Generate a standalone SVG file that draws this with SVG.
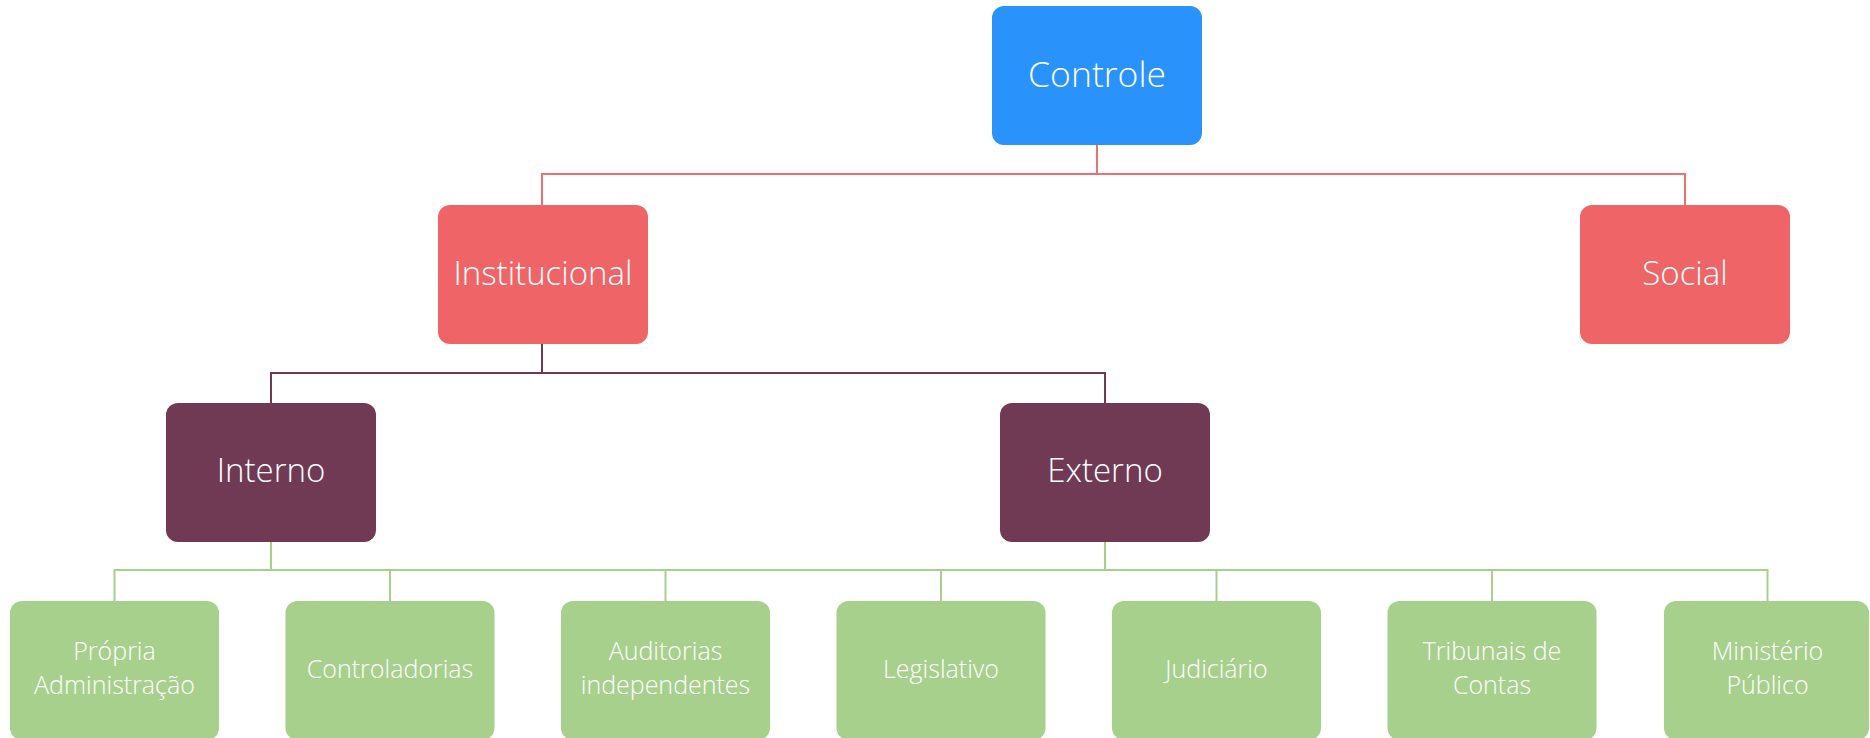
<svg xmlns="http://www.w3.org/2000/svg" width="1870" height="738" viewBox="0 0 1870 738">
<style>
text{font-family:"Open Sans","Noto Sans",sans-serif;font-weight:300;fill:#ffffff;text-anchor:middle}
.top{font-size:35.5px}
.big{font-size:33px}
.small{font-size:25px}
.blue{fill:#2A93FB}
.red{fill:#EF6567}
.purple{fill:#703A55}
.green{fill:#A8D08D}
.lr{stroke:#EF7072;stroke-width:2;fill:none}
.lp{stroke:#703A55;stroke-width:2;fill:none}
.lg{stroke:#A8D08D;stroke-width:2;fill:none}
</style>
<rect width="1870" height="738" fill="#ffffff"/>
<g id="connectors">
<path class="lr" d="M1097 145V174M542 205V174H1685V205"/>
<path class="lp" d="M542 344V373M271 403V373H1105V403"/>
<path class="lg" d="M271 542V570M1105 542V570M114.5 601V570H1767.5V601M390 570V601M665.5 570V601M941 570V601M1216.5 570V601M1492 570V601"/>
</g>
<g id="controle"><rect class="blue" x="992" y="6" width="210" height="139" rx="12"/><text class="top" x="1097" y="87">Controle</text></g>
<g id="institucional"><rect class="red" x="438" y="205" width="210" height="139" rx="12"/><text class="big" x="543" y="285">Institucional</text></g>
<g id="social"><rect class="red" x="1580" y="205" width="210" height="139" rx="12"/><text class="big" x="1685" y="285">Social</text></g>
<g id="interno"><rect class="purple" x="166" y="403" width="210" height="139" rx="12"/><text class="big" x="271" y="482">Interno</text></g>
<g id="externo"><rect class="purple" x="1000" y="403" width="210" height="139" rx="12"/><text class="big" x="1105" y="482">Externo</text></g>
<g id="propria"><rect class="green" x="10" y="601" width="209" height="139" rx="12"/><text class="small" x="114.5" y="660">Própria</text><text class="small" x="114.5" y="694">Administração</text></g>
<g id="controladorias"><rect class="green" x="285.5" y="601" width="209" height="139" rx="12"/><text class="small" x="390" y="678">Controladorias</text></g>
<g id="auditorias"><rect class="green" x="561" y="601" width="209" height="139" rx="12"/><text class="small" x="665.5" y="660">Auditorias</text><text class="small" x="665.5" y="694">independentes</text></g>
<g id="legislativo"><rect class="green" x="836.5" y="601" width="209" height="139" rx="12"/><text class="small" x="941" y="678">Legislativo</text></g>
<g id="judiciario"><rect class="green" x="1112" y="601" width="209" height="139" rx="12"/><text class="small" x="1216.5" y="678">Judiciário</text></g>
<g id="tribunais"><rect class="green" x="1387.5" y="601" width="209" height="139" rx="12"/><text class="small" x="1492" y="660">Tribunais de</text><text class="small" x="1492" y="694">Contas</text></g>
<g id="ministerio"><rect class="green" x="1664" y="601" width="205" height="139" rx="12"/><text class="small" x="1767.5" y="660">Ministério</text><text class="small" x="1767.5" y="694">Público</text></g>
</svg>
